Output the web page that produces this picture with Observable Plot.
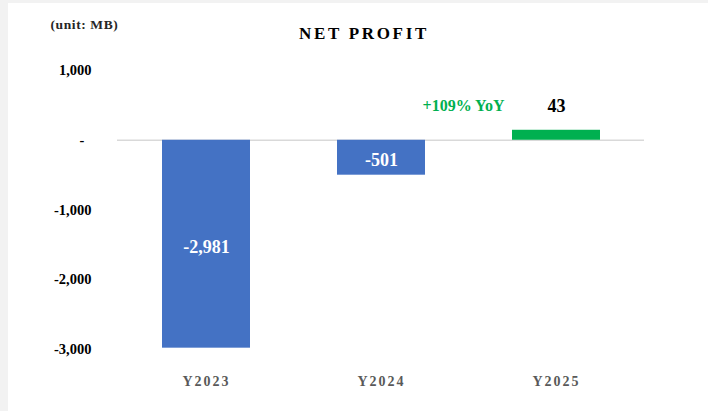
<!DOCTYPE html>
<html>
<head>
<meta charset="utf-8">
<script src="https://cdn.jsdelivr.net/npm/d3@7"></script>
<script src="https://cdn.jsdelivr.net/npm/@observablehq/plot@0.6"></script>
<style>
  html, body { margin: 0; padding: 0; background: #f2f2f2; width: 708px; height: 411px; overflow: hidden; }
  #panel { position: absolute; left: 8px; top: 3px; right: 0; bottom: 0; background: #ffffff; }
  #chart { position: absolute; left: 0; top: 0; }
</style>
</head>
<body>
<div id="panel"></div>
<div id="chart"></div>
<script>
const years = ["Y2023", "Y2024", "Y2025"];
const barValues = [-2981, -501, 143];
const barLabels = ["-2,981", "-501", "43"];
const barColors = ["#4472c4", "#4472c4", "#00b050"];
const yoyText = "+109% YoY";
const yTicks = [1000, 0, -1000, -2000, -3000];
const titleText = "NET PROFIT";
const unitText = "(unit: MB)";

const data = years.map((y, i) => ({year: y, value: barValues[i], label: barLabels[i], color: barColors[i]}));
const inside = data.filter(d => d.value < 0);
const above = data.filter(d => d.value >= 0);
const FONT = "Liberation Serif, Times New Roman, serif";

const fmt = d => d === 0 ? "-\u00a0\u00a0" : d3.format(",")(d).replace("\u2212", "-");

const chart = Plot.plot({
  width: 708,
  height: 411,
  marginLeft: 117,
  marginRight: 64,
  marginTop: 70,
  marginBottom: 62,
  style: {background: "transparent", fontFamily: FONT},
  x: {domain: years, paddingInner: 0.5, paddingOuter: 0.25, label: null},
  y: {domain: [-3000, 1000], label: null},
  marks: [
    Plot.ruleY([0], {stroke: "#d9d9d9", strokeWidth: 1.5}),
    Plot.barY(data, {x: "year", y: "value", fill: d => d.color}),
    Plot.axisY({ticks: yTicks, tickFormat: fmt, tickSize: 0, tickPadding: 26, fontSize: 14.5, fontWeight: "bold", fill: "#000", label: null}),
    Plot.axisX({tickSize: 0, tickPadding: 27, fontSize: 14, fontWeight: "bold", fill: "#595959", label: null}),
    Plot.text(inside, {x: "year", y: d => d.value / 2, text: "label", fill: "white", fontSize: 18, fontWeight: "bold", dy: 3}),
    Plot.text(above, {x: "year", y: "value", text: "label", fill: "#000", fontSize: 18, fontWeight: "bold", dy: -24}),
    Plot.text(above, {x: "year", y: "value", text: () => yoyText, fill: "#00b050", fontSize: 16, fontWeight: "bold", dy: -24, dx: -93})
  ]
});

d3.select(chart).selectAll('g[aria-label="x-axis tick label"] text').style("letter-spacing", "2px");

const svg = d3.select(chart);
svg.append("text")
  .attr("x", 364).attr("y", 38.5)
  .attr("text-anchor", "middle")
  .style("font-family", FONT).style("font-size", "17px").style("font-weight", "bold")
  .style("letter-spacing", "2.7px").attr("fill", "#000")
  .text(titleText);
svg.append("text")
  .attr("x", 50.5).attr("y", 29)
  .attr("text-anchor", "start")
  .style("font-family", FONT).style("font-size", "13.5px").style("font-weight", "bold")
  .style("letter-spacing", "0.6px").attr("fill", "#262626")
  .text(unitText);

document.getElementById("chart").appendChild(chart);
</script>
</body>
</html>
